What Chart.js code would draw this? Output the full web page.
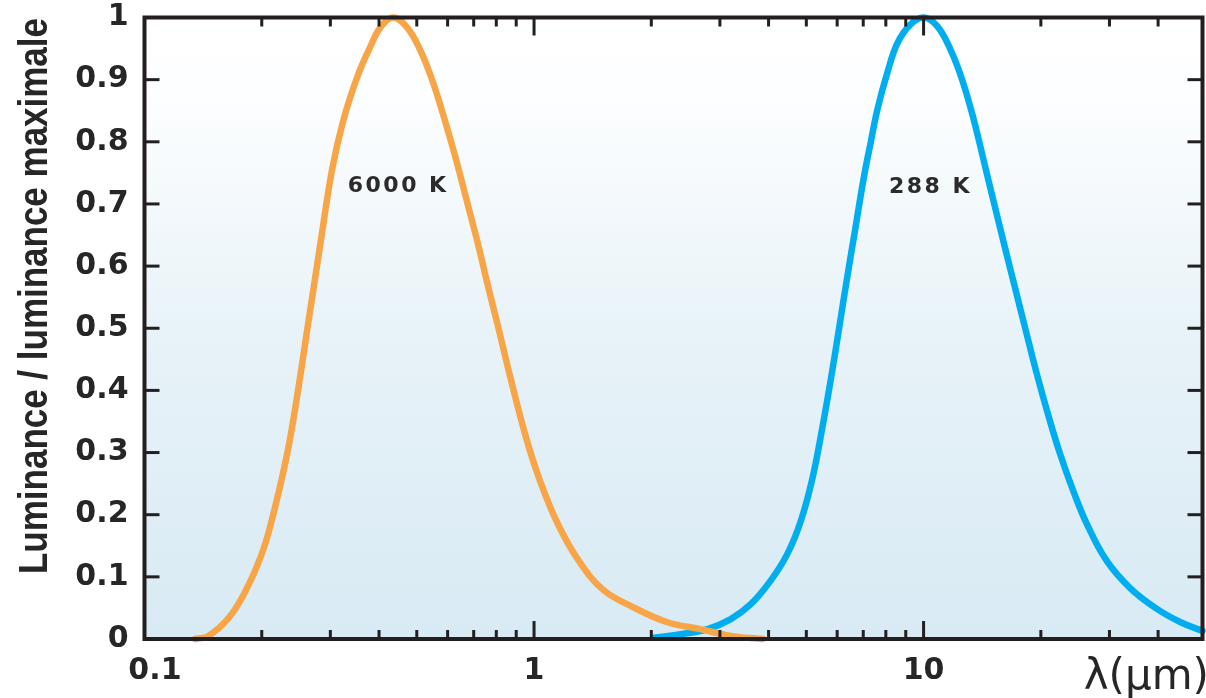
<!DOCTYPE html>
<html>
<head>
<meta charset="utf-8">
<script src="https://cdn.jsdelivr.net/npm/chart.js@4/dist/chart.umd.min.js"></script>
<style>
  html, body { margin: 0; padding: 0; background: #fff; }
  #wrap { width: 1206px; height: 698px; }
</style>
</head>
<body>
<div id="wrap"><canvas id="planckChart"></canvas></div>
<script>
// Courbe 6000 K (lambda en micrometres, luminance relative)
const sunLambda = [0.135, 0.146, 0.165, 0.182, 0.199, 0.211, 0.231, 0.245, 0.262,
    0.283, 0.303, 0.324, 0.352, 0.380, 0.403, 0.435, 0.472, 0.510, 0.548, 0.588, 0.631,
    0.674, 0.719, 0.763, 0.809, 0.874, 0.955, 1.038, 1.147, 1.299, 1.506, 1.799, 2.199, 2.674,
    3.193, 3.859];
const sunLum = [0, 0.005, 0.035, 0.078, 0.133, 0.185, 0.29, 0.38, 0.50,
    0.637, 0.755, 0.835, 0.905, 0.953, 0.984, 1.0, 0.984, 0.948, 0.899, 0.838, 0.771,
    0.702, 0.634, 0.566, 0.502, 0.415, 0.323, 0.253, 0.187, 0.127, 0.079, 0.051, 0.027, 0.016,
    0.005, 0];

// Courbe 288 K
const earthLambda = [2.03, 2.4, 2.79, 3.20, 3.60, 4.05, 4.47, 4.84, 5.19, 5.50, 5.83, 6.09,
    6.37, 6.69, 7.03, 7.31, 7.61, 8.07, 8.57, 9.26, 10.0, 10.84, 11.73, 12.56, 13.46,
    14.29, 15.14, 16.07, 17.22, 18.2, 19.5, 20.9, 22.4, 24.3, 26.3, 29.5, 33.9, 39.8,
    45.7, 52];
const earthLum = [0.002, 0.008, 0.016, 0.032, 0.056, 0.094, 0.137, 0.190, 0.260, 0.341, 0.432, 0.506,
    0.583, 0.663, 0.744, 0.798, 0.852, 0.911, 0.959, 0.989, 1.0, 0.986, 0.948, 0.900, 0.835,
    0.768, 0.703, 0.637, 0.562, 0.502, 0.428, 0.360, 0.298, 0.236, 0.184, 0.126, 0.082, 0.048,
    0.027, 0.013];

// Axes
const xLabelTicks = [0.1, 1, 10];
const xMinorTicks = [0.2, 0.3, 0.4, 0.5, 0.6, 0.7, 0.8, 0.9, 2, 3, 4, 5, 6, 7, 8, 9, 20, 30, 40];
const yTicks = [0.1, 0.2, 0.3, 0.4, 0.5, 0.6, 0.7, 0.8, 0.9];

// Etiquettes des courbes
const curveNames = ['6000 K', '288 K'];
const curveNameX = [0.448, 10.42];
const curveNameY = [0.728, 0.727];

const AXIS_COLOR = '#231f20';
const TEXT_COLOR = '#262626';
const TICK_FONT = { family: 'DejaVu Sans', size: 30, weight: 'bold', lineHeight: 1 };

function toPoints(xs, ys) {
    return xs.map((v, i) => ({ x: v, y: ys[i] }));
}

/**
 * Fond degrade, cadre, graduations internes et textes
 */
const frameTicks = {
    id: 'frameTicks',
    beforeDraw(chart) {
        const { ctx, chartArea: a } = chart;
        const grad = ctx.createLinearGradient(0, a.top, 0, a.bottom);
        grad.addColorStop(0, '#ffffff');
        grad.addColorStop(0.12, '#fdfeff');
        grad.addColorStop(0.5, '#e8f3f8');
        grad.addColorStop(1, '#d8eaf4');
        ctx.save();
        ctx.fillStyle = grad;
        ctx.fillRect(a.left, a.top, a.width, a.height);
        ctx.restore();
    },
    afterDraw(chart) {
        const { ctx, chartArea: a, scales: { x, y } } = chart;
        ctx.save();
        ctx.strokeStyle = AXIS_COLOR;
        ctx.lineWidth = 3;

        function seg(x1, y1, x2, y2) {
            ctx.beginPath();
            ctx.moveTo(x1, y1);
            ctx.lineTo(x2, y2);
            ctx.stroke();
        }

        xMinorTicks.forEach(v => {
            const px = x.getPixelForValue(v);
            seg(px, a.bottom, px, a.bottom - 9);
            seg(px, a.top, px, a.top + 9);
        });
        xLabelTicks.forEach(v => {
            const px = x.getPixelForValue(v);
            seg(px, a.bottom, px, a.bottom - 18);
            seg(px, a.top, px, a.top + 18);
        });
        yTicks.forEach(v => {
            const py = y.getPixelForValue(v);
            seg(a.left, py, a.left + 15, py);
            seg(a.right, py, a.right - 15, py);
        });

        ctx.lineWidth = 4;
        ctx.strokeRect(a.left, a.top, a.width, a.height);

        // noms des courbes
        ctx.fillStyle = '#2b2b2b';
        ctx.font = 'bold 22px "DejaVu Sans"';
        ctx.textAlign = 'center';
        ctx.textBaseline = 'middle';
        ctx.letterSpacing = '2.5px';
        curveNames.forEach((name, i) => {
            ctx.fillText(name, x.getPixelForValue(curveNameX[i]), y.getPixelForValue(curveNameY[i]));
        });
        ctx.letterSpacing = '0px';

        // titre axe x
        ctx.fillStyle = TEXT_COLOR;
        ctx.font = '42px "DejaVu Sans"';
        ctx.textAlign = 'right';
        ctx.textBaseline = 'alphabetic';
        ctx.fillText('λ(μm)', 1209, 689);

        // titre axe y, condense
        const title = 'Luminance / luminance maximale';
        ctx.font = 'bold 40px "Liberation Sans"';
        const w = ctx.measureText(title).width;
        ctx.translate(47, 296);
        ctx.rotate(-Math.PI / 2);
        ctx.scale(556 / w, 1);
        ctx.textAlign = 'center';
        ctx.fillText(title, 0, 0);
        ctx.restore();
    }
};

const ctx = document.getElementById('planckChart').getContext('2d');
new Chart(ctx, {
    type: 'scatter',
    data: {
        datasets: [
            {
                label: '6000 K',
                data: toPoints(sunLambda, sunLum),
                borderColor: '#f8a548',
                borderWidth: 6.5
            },
            {
                label: '288 K',
                data: toPoints(earthLambda, earthLum),
                borderColor: '#00aeef',
                borderWidth: 6.5
            }
        ]
    },
    options: {
        responsive: true,
        maintainAspectRatio: false,
        animation: false,
        showLine: true,
        clip: false,
        elements: {
            point: { radius: 0, hoverRadius: 0 },
            line: { tension: 0.4, borderCapStyle: 'round' }
        },
        layout: { padding: { left: 0, top: 17.5, right: 3.5, bottom: 0 } },
        plugins: {
            legend: { display: false },
            tooltip: { enabled: false }
        },
        scales: {
            x: {
                type: 'logarithmic',
                min: 0.1,
                max: 52,
                grid: { display: false, drawTicks: false },
                border: { display: false },
                afterBuildTicks(scale) {
                    scale.ticks = xLabelTicks.map(v => ({ value: v }));
                },
                afterFit(scale) {
                    scale.height = 59;
                },
                ticks: {
                    autoSkip: false,
                    maxRotation: 0,
                    padding: 17,
                    color: TEXT_COLOR,
                    font: TICK_FONT,
                    callback: function(value) {
                        return value === 0.1 ? '  0.1' : String(value);
                    }
                }
            },
            y: {
                min: 0,
                max: 1,
                grid: { display: false, drawTicks: false },
                border: { display: false },
                afterFit(scale) {
                    scale.width = 144.5;
                    scale.paddingTop = 0;
                    scale.paddingBottom = 0;
                },
                ticks: {
                    stepSize: 0.1,
                    padding: 16,
                    color: TEXT_COLOR,
                    font: TICK_FONT,
                    callback: function(value) {
                        return value === 0 || value === 1 ? String(value) : value.toFixed(1);
                    }
                }
            }
        }
    },
    plugins: [frameTicks]
});
</script>
</body>
</html>
